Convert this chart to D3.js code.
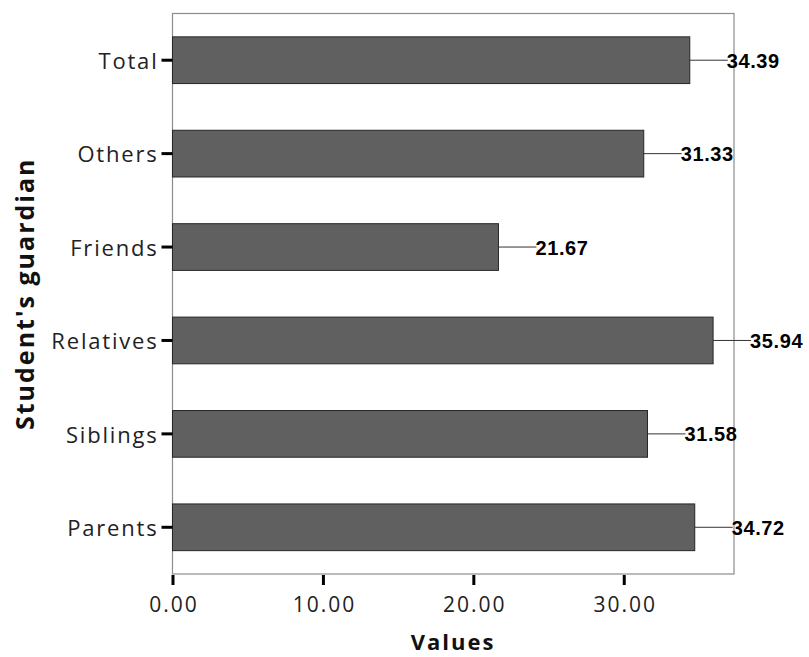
<!DOCTYPE html>
<html><head><meta charset="utf-8">
<script src="https://cdn.jsdelivr.net/npm/d3@7"></script>
<style>body{margin:0;background:#fff}</style>
</head><body>
<script>
const categories = ["Total","Others","Friends","Relatives","Siblings","Parents"];
const values = [34.39,31.33,21.67,35.94,31.58,34.72];
const xTicks = [0,10,20,30];
const xTitle = "Values";
const yTitle = "Student's guardian";

const W=809,H=657;
const m={left:172.5,right:809-734,top:13.5,bottom:657-574};
const svg=d3.select("body").append("svg").attr("width",W).attr("height",H);
const x=d3.scaleLinear().domain([0,37.33]).range([m.left,734]);
const y=d3.scaleBand().domain(categories).range([m.top,574]).paddingInner(0.5).paddingOuter(0.25);
const tickFont="'Open Sans', sans-serif";

// frame
svg.append("rect").attr("x",m.left).attr("y",m.top).attr("width",734-m.left).attr("height",574-m.top)
  .attr("fill","none").attr("stroke","#8c8c8c").attr("stroke-width",1.2);

// bars
const data=categories.map((c,i)=>({c,v:values[i]}));
svg.selectAll("rect.bar").data(data).join("rect").attr("class","bar")
  .attr("x",x(0)).attr("y",d=>y(d.c)).attr("width",d=>x(d.v)-x(0)).attr("height",y.bandwidth())
  .attr("fill","#606060").attr("stroke","#262626").attr("stroke-width",1);

// leader lines and labels
svg.selectAll("line.lead").data(data).join("line").attr("class","lead")
  .attr("x1",d=>x(d.v)).attr("x2",d=>x(d.v)+38)
  .attr("y1",d=>y(d.c)+y.bandwidth()/2).attr("y2",d=>y(d.c)+y.bandwidth()/2)
  .attr("stroke","#333").attr("stroke-width",1);
svg.selectAll("text.val").data(data).join("text").attr("class","val")
  .attr("x",d=>x(d.v)+37).attr("y",d=>y(d.c)+y.bandwidth()/2).attr("dy","0.38em")
  .attr("font-family","Arial, 'Liberation Sans', sans-serif").attr("font-weight","bold").attr("font-size",20)
  .attr("letter-spacing","0.6px").attr("fill","#000").text(d=>d.v.toFixed(2));

// x axis
const xa=svg.append("g").attr("transform","translate(0,575)")
  .call(d3.axisBottom(x).tickValues(xTicks).tickSize(10).tickFormat(d=>d.toFixed(2)));
xa.select(".domain").remove();
xa.selectAll(".tick line").attr("stroke","#000").attr("stroke-width",3);
xa.selectAll(".tick text").attr("font-family",tickFont).attr("font-size",21).attr("letter-spacing","2px")
  .attr("fill","#222").attr("y",37).attr("dy",0).attr("dx","1px");

// y axis
const ya=svg.append("g").attr("transform",`translate(${m.left},0)`)
  .call(d3.axisLeft(y).tickSize(11).tickPadding(3));
ya.select(".domain").remove();
ya.selectAll(".tick line").attr("stroke","#000").attr("stroke-width",3);
ya.selectAll(".tick text").attr("font-family",tickFont).attr("font-size",22).attr("letter-spacing","1.8px")
  .attr("fill","#222").attr("dy","0.4em");

// titles
svg.append("text").attr("x",453).attr("y",650).attr("text-anchor","middle")
  .attr("font-family",tickFont).attr("font-weight","bold").attr("font-size",22).attr("letter-spacing","2px")
  .attr("fill","#111").text(xTitle);
svg.append("text").attr("transform",`translate(34,${(m.top+574)/2}) rotate(-90)`).attr("text-anchor","middle")
  .attr("font-family",tickFont).attr("font-weight","bold").attr("font-size",25).attr("letter-spacing","2px")
  .attr("fill","#111").text(yTitle);
</script>
</body></html>
